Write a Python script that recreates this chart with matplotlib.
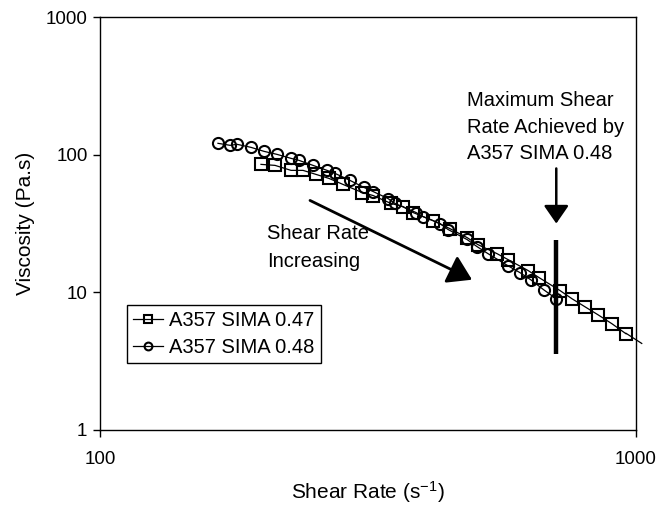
import numpy as np
import matplotlib
matplotlib.use("Agg")
import matplotlib.pyplot as plt

plt.rcParams["font.family"] = ["Liberation Sans", "DejaVu Sans"]
plt.rcParams["mathtext.fontset"] = "custom"
plt.rcParams["mathtext.rm"] = "Liberation Sans"
plt.rcParams["mathtext.it"] = "Liberation Sans"

# A357 SIMA 0.47 (squares)
rate_047 = [199.7, 212.1, 227.2, 239.2, 252.9, 267.5, 284.0, 308.3, 323.2, 349.1,
            367.6, 383.7, 418.1, 449.8, 483.8, 507.2, 550.4, 576.9, 629.0, 659.2,
            721.5, 759.7, 803.3, 849.4, 902.0, 958.0]
visc_047 = [85.0, 83.6, 76.9, 76.9, 71.9, 67.2, 60.8, 53.1, 50.5, 44.2,
            42.0, 38.0, 33.2, 29.0, 25.0, 22.2, 19.1, 17.3, 14.4, 12.8,
            10.3, 8.98, 7.85, 6.87, 5.91, 5.0]

# A357 SIMA 0.48 (circles)
rate_048 = [166.0, 174.9, 180.2, 191.3, 202.3, 213.9, 227.2, 235.1, 249.7, 265.2,
            274.5, 292.7, 310.9, 323.2, 344.6, 355.1, 388.7, 400.5, 430.9, 446.0,
            483.8, 505.0, 529.5, 576.9, 607.5, 637.0, 673.5, 710.0]
visc_048 = [120.9, 116.9, 118.9, 113.0, 105.7, 100.5, 94.0, 90.9, 83.6, 76.9,
            73.1, 65.0, 57.8, 54.0, 48.0, 44.2, 38.0, 35.5, 31.6, 28.6,
            24.2, 21.5, 19.1, 15.6, 13.9, 12.3, 10.4, 8.98]

series_labels = ["A357 SIMA 0.47", "A357 SIMA 0.48"]

# maximum shear rate reached by the 0.48 alloy, marked with a vertical bar
max_rate_048 = 710.0
bar_range = [3.57, 23.8]

x_ticks = [100, 1000]
x_tick_labels = ["100", "1000"]
y_ticks = [1, 10, 100, 1000]
y_tick_labels = ["1", "10", "100", "1000"]

fig = plt.figure(figsize=(6.57, 5.12), dpi=100)
ax = fig.add_axes([100 / 657, 1 - 430 / 512, 536 / 657, 413 / 512])
ax.set_xscale("log")
ax.set_yscale("log")
ax.set_xlim(100, 1000)
ax.set_ylim(1, 1000)

mk = dict(color="black", lw=0.9, fillstyle="none", markeredgewidth=1.5)
ax.plot(rate_047, visc_047, marker="s", markersize=8.5, label=series_labels[0], **mk)
ax.plot(rate_048, visc_048, marker="o", markersize=8, label=series_labels[1], **mk)

# extend the 0.47 trend past the last reading with a power-law fit of the tail
tail_x = np.log10(rate_047[-6:])
tail_y = np.log10(visc_047[-6:])
slope, icpt = np.polyfit(tail_x, tail_y, 1)
ext_x = np.array([rate_047[-1], 1025.0])
ax.plot(ext_x, 10 ** (icpt + slope * np.log10(ext_x)), color="black", lw=0.9,
        clip_on=False)

# vertical bar at the maximum shear rate
ax.plot([max_rate_048, max_rate_048], bar_range, color="black", lw=3.2,
        solid_capstyle="butt")

# arrow pointing down to the bar
ax.annotate("", xy=(max_rate_048, 31.6), xytext=(max_rate_048, 79.4),
            arrowprops=dict(arrowstyle="-|>,head_length=0.55,head_width=0.38",
                            mutation_scale=20, lw=1.8, color="black",
                            shrinkA=0, shrinkB=0))
ax.text(484, 290, "Maximum Shear\nRate Achieved by\nA357 SIMA 0.48",
        fontsize=14.5, ha="left", va="top", linespacing=1.5)

# shear-rate direction arrow
ax.annotate("", xy=(494.4, 12.35), xytext=(246.5, 46.5),
            arrowprops=dict(arrowstyle="-|>,head_length=0.6,head_width=0.38",
                            mutation_scale=24, lw=2.0, color="black",
                            shrinkA=0, shrinkB=0))
ax.text(205, 31.5, "Shear Rate\nIncreasing", fontsize=14.5, ha="left", va="top",
        linespacing=1.6)

ax.set_xticks(x_ticks)
ax.set_xticklabels(x_tick_labels)
ax.set_yticks(y_ticks)
ax.set_yticklabels(y_tick_labels)
ax.minorticks_off()
ax.tick_params(axis="both", direction="out", length=5, width=1, labelsize=13.5)
ax.tick_params(axis="x", pad=10)
ax.tick_params(axis="y", pad=4)
for s in ax.spines.values():
    s.set_linewidth(1.0)

ax.set_xlabel("Shear Rate (s$^{-1}$)", fontsize=15, labelpad=8)
ax.set_ylabel("Viscosity (Pa.s)", fontsize=15, labelpad=8)

leg = ax.legend(loc="upper left", bbox_to_anchor=(0.05, 0.303), borderaxespad=0,
                fontsize=14.5, fancybox=False, edgecolor="black", framealpha=1,
                handlelength=1.5, handletextpad=0.3, borderpad=0.3,
                labelspacing=0.4, markerscale=0.7)
leg.get_frame().set_linewidth(1.0)

fig.savefig("out.png", dpi=100)
